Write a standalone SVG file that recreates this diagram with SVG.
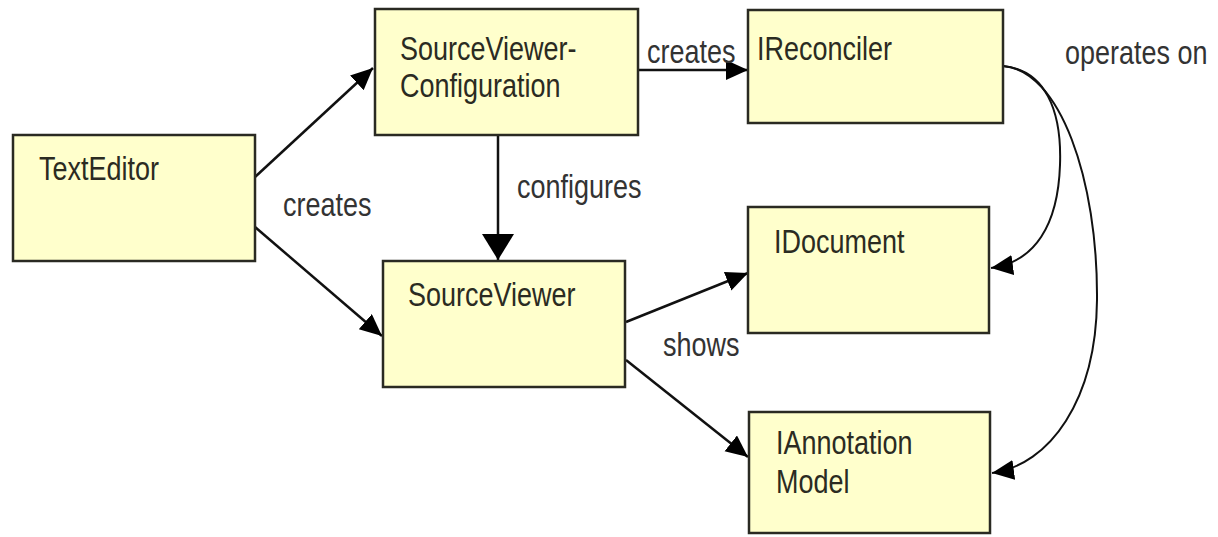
<svg xmlns="http://www.w3.org/2000/svg" width="1218" height="537" viewBox="0 0 1218 537">
<style>
.box{fill:#FFFFCC;stroke:#2a2a22;stroke-width:2.5}
.t{font-family:"Liberation Sans",Arial,sans-serif;font-size:27px;fill:#2b2b22}
.l{font-family:"Liberation Sans",Arial,sans-serif;font-size:27px;fill:#333333}
.c{fill:none;stroke:#111111;stroke-width:2.5}
.cv{fill:none;stroke:#111111;stroke-width:2}
</style>
<defs>
<marker id="ah" markerUnits="userSpaceOnUse" markerWidth="24" markerHeight="22" refX="22" refY="10" orient="auto">
<path d="M0,0 L22,10 L0,20 Z" fill="#000"/>
</marker>
<marker id="ahBig" markerUnits="userSpaceOnUse" markerWidth="28" markerHeight="34" refX="26" refY="16" orient="auto">
<path d="M0,0 L26,16 L0,32 Z" fill="#000"/>
</marker>
</defs>
<rect width="1218" height="537" fill="#ffffff"/>
<g id="connectors">
<path class="c" d="M255,177 L373,68" marker-end="url(#ah)"/>
<path class="c" d="M255,227 L382,336" marker-end="url(#ah)"/>
<path class="c" d="M638,70 L748,70" marker-end="url(#ah)"/>
<path class="c" d="M498,135 L498,260" marker-end="url(#ahBig)"/>
<path class="c" d="M626,322 L748,273" marker-end="url(#ah)"/>
<path class="c" d="M626,360 L748,457" marker-end="url(#ah)"/>
<path class="cv" d="M1003,66 C1045,70 1062,110 1060,165 C1058,225 1035,262 991,268" marker-end="url(#ah)"/>
<path class="cv" d="M1003,66 C1060,70 1098,180 1097,300 C1096,400 1050,465 992,473" marker-end="url(#ah)"/>
<text class="l" transform="translate(647,63) scale(1,1.22)">creates</text>
<text class="l" transform="translate(283,216) scale(1,1.22)">creates</text>
<text class="l" transform="translate(517,198) scale(1,1.22)">configures</text>
<text class="l" transform="translate(663,356) scale(1,1.22)">shows</text>
<text class="l" transform="translate(1065,64) scale(1,1.22)">operates on</text>
</g>
<g id="TextEditor">
<rect class="box" x="13" y="135" width="242" height="126"/>
<text class="t" transform="translate(39,180) scale(1,1.22)">TextEditor</text>
</g>
<g id="SourceViewerConfiguration">
<rect class="box" x="375" y="9" width="263" height="126"/>
<text class="t" transform="translate(400,60) scale(1,1.22)">SourceViewer-</text>
<text class="t" transform="translate(400,97) scale(1,1.22)">Configuration</text>
</g>
<g id="IReconciler">
<rect class="box" x="748" y="10" width="255" height="113"/>
<text class="t" transform="translate(757,60) scale(1,1.22)">IReconciler</text>
</g>
<g id="SourceViewer">
<rect class="box" x="383" y="261" width="242" height="126"/>
<text class="t" transform="translate(408,306) scale(1,1.22)">SourceViewer</text>
</g>
<g id="IDocument">
<rect class="box" x="748" y="207" width="241" height="126"/>
<text class="t" transform="translate(774,253) scale(1,1.22)">IDocument</text>
</g>
<g id="IAnnotationModel">
<rect class="box" x="749" y="412" width="241" height="121"/>
<text class="t" transform="translate(776,454) scale(1,1.22)">IAnnotation</text>
<text class="t" transform="translate(776,493) scale(1,1.22)">Model</text>
</g>
</svg>
